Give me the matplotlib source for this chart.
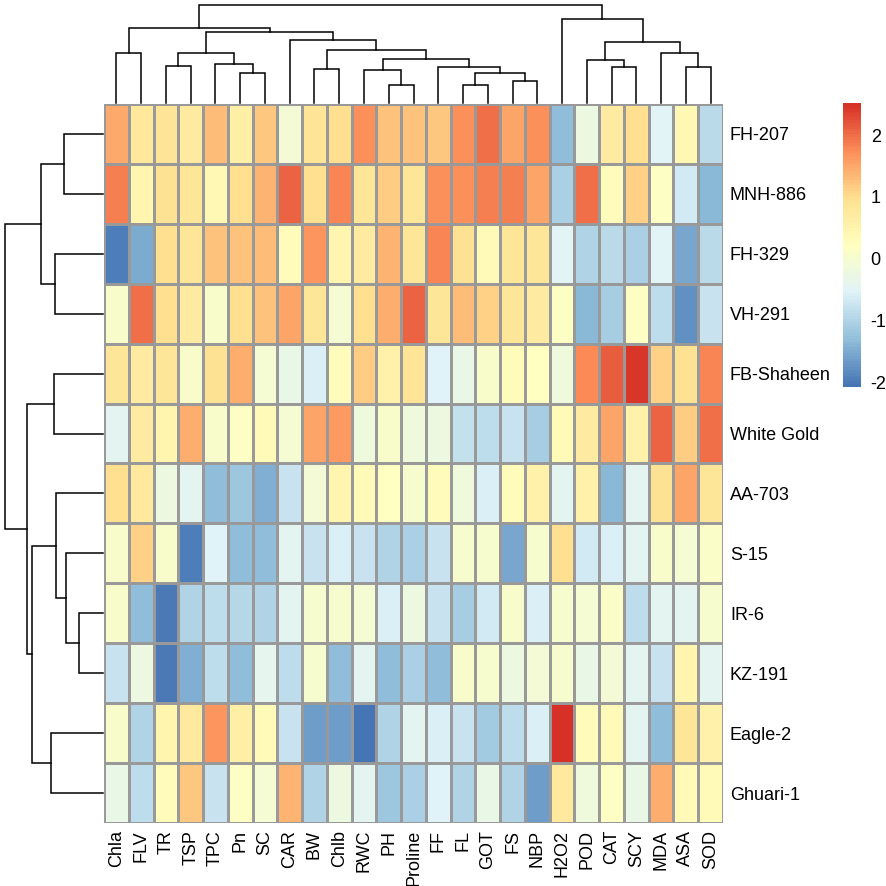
import numpy as np
import matplotlib
matplotlib.use("Agg")
import matplotlib.pyplot as plt
from matplotlib.colors import LinearSegmentedColormap

plt.rcParams['font.family'] = ['Liberation Sans', 'DejaVu Sans']
plt.rcParams['axes.unicode_minus'] = False

# genotypes (rows, top to bottom) and traits (columns, left to right)
genotypes = ["FH-207", "MNH-886", "FH-329", "VH-291", "FB-Shaheen", "White Gold",
             "AA-703", "S-15", "IR-6", "KZ-191", "Eagle-2", "Ghuari-1"]
traits = ["Chla", "FLV", "TR", "TSP", "TPC", "Pn", "SC", "CAR", "BW", "Chlb",
          "RWC", "PH", "Proline", "FF", "FL", "GOT", "FS", "NBP", "H2O2",
          "POD", "CAT", "SCY", "MDA", "ASA", "SOD"]

# scaled values, one line per genotype
z_scores = [
    [1.5, 0.8, 0.9, 0.7, 1.3, 0.6, 1.2, -0.1, 0.9, 1.0, 1.7, 1.25, 1.25, 1.2, 1.7, 2.0, 1.55, 1.7, -1.3, -0.2, 0.7, 1.0, -0.5, 0.4, -0.9],
    [1.85, 0.45, 0.95, 0.85, 0.4, 1.0, 1.4, 2.1, 1.0, 1.8, 0.85, 1.15, 0.85, 1.7, 1.7, 1.85, 1.85, 1.55, -1.05, 2.0, 0.3, 1.1, 0.15, -0.7, -1.35],
    [-1.95, -1.5, 1.0, 0.85, 1.25, 1.25, 1.3, 0.3, 1.65, 0.45, 0.7, 1.4, 0.85, 1.8, 0.95, 0.35, 0.85, 0.85, -0.5, -1.0, -0.9, -1.05, -0.5, -1.55, -0.9],
    [0.05, 2.0, 1.0, 0.7, 0.05, 1.0, 1.25, 1.55, 0.85, -0.05, 1.0, 1.45, 2.1, 0.85, 1.3, 1.1, 0.85, 0.7, 0.15, -1.35, -1.1, 0.15, -0.85, -1.8, -0.75],
    [0.85, 0.7, 0.85, 0.05, 0.95, 1.45, -0.05, -0.3, -0.6, 0.3, 1.15, 0.55, 0.9, -0.55, -0.3, 0.05, 0.3, 0.2, -0.15, 1.75, 2.15, 2.45, 1.1, 0.95, 1.8],
    [-0.45, 0.7, 0.45, 1.45, 0.05, 0.15, 0.35, -0.05, 1.55, 1.6, -0.15, 0.05, -0.15, -0.2, -0.8, -0.85, -0.75, -1.1, 0.35, 0.7, 1.55, 0.55, 2.1, 1.15, 2.0],
    [1.0, 0.75, -0.2, -0.45, -1.3, -1.2, -1.45, -0.75, -0.1, 0.45, 0.35, 0.2, 0.0, 0.3, -0.15, -0.6, 0.3, 0.55, -0.45, 0.55, -1.35, -0.45, 0.95, 1.55, 0.85],
    [0.05, 1.1, 0.05, -1.95, -0.55, -1.3, -1.3, -0.45, -0.75, -0.6, -0.75, -1.0, -1.05, -0.75, 0.0, 0.0, -1.55, 0.0, 1.0, -0.7, -0.6, -0.45, 0.05, -0.05, 0.1],
    [0.05, -1.3, -2.0, -1.0, -0.85, -0.95, -1.0, -0.45, 0.0, 0.0, -0.05, -0.6, -0.2, -0.75, -1.1, -0.7, 0.05, -0.6, 0.0, -0.05, 0.1, -0.85, -0.45, -0.45, 0.0],
    [-0.75, -0.2, -2.0, -1.45, -0.85, -1.3, -0.4, -0.85, 0.0, -1.3, -0.45, -1.3, -1.05, -1.3, 0.05, 0.0, -0.2, -0.1, 0.0, -0.3, -0.1, -0.45, -0.75, 0.45, -0.45],
    [0.05, -1.0, 0.45, 0.75, 1.65, 0.6, 0.35, -0.75, -1.65, -1.65, -2.08, -1.0, -0.45, -0.6, -0.75, -1.15, -0.85, -0.6, 2.52, 0.3, 0.35, -0.45, -1.3, 0.85, 0.55],
    [-0.3, -0.85, 0.3, 1.2, -0.75, 0.15, -0.05, 1.4, -1.0, -0.2, -0.45, -1.2, -1.05, -0.55, -1.0, -0.3, -1.0, -1.65, 0.75, -0.15, 0.15, -0.3, 1.45, 0.35, 0.35],
]

# merges as (left, right, height); ids >= n are earlier merges
col_merges = [
    (11, 12, 53), (14, 15, 53), (16, 17, 67), (5, 6, 92), (26, 27, 92),
    (10, 25, 100), (8, 9, 104), (13, 29, 108), (20, 21, 108), (23, 24, 108),
    (2, 3, 112), (4, 28, 118), (19, 33, 130), (30, 32, 134), (0, 1, 152),
    (35, 36, 152), (22, 34, 152), (31, 38, 160), (37, 41, 185), (7, 42, 190),
    (40, 44, 215), (39, 45, 228), (18, 43, 253), (46, 47, 296),
]
row_merges = [
    (8, 9, 73), (7, 12, 110), (0, 1, 117), (6, 13, 140), (2, 3, 143),
    (4, 5, 147), (10, 11, 158), (14, 16, 188), (15, 18, 215), (17, 20, 230),
    (19, 21, 295),
]

data = np.array(z_scores)
W = H = 886.0


def px_axes(fig, x0, y0, x1, y1):
    # axes from pixel box (top-left origin)
    return fig.add_axes([x0 / W, 1 - y1 / H, (x1 - x0) / W, (y1 - y0) / H])


def draw_dendro(ax, merges, n, orient):
    pos = {i: i + 0.5 for i in range(n)}
    hgt = {i: 0.0 for i in range(n)}
    for k, (a, b, h) in enumerate(merges):
        xa, xb = pos[a], pos[b]
        if orient == 'top':
            ax.plot([xa, xa, xb, xb], [hgt[a], h, h, hgt[b]], color='black', lw=1.1,
                    solid_joinstyle='miter', clip_on=False)
        else:
            ax.plot([hgt[a], h, h, hgt[b]], [xa, xa, xb, xb], color='black', lw=1.1,
                    solid_joinstyle='miter', clip_on=False)
        pos[n + k] = (xa + xb) / 2
        hgt[n + k] = h
    top = merges[-1][2]
    if orient == 'top':
        ax.set_xlim(0, n)
        ax.set_ylim(0, top)
    else:
        ax.set_ylim(n, 0)
        ax.set_xlim(top, 0)
    ax.axis('off')


fig = plt.figure(figsize=(8.86, 8.86), dpi=100)

colors = ['#4575B4', '#91BFDB', '#E0F3F8', '#FFFFBF', '#FEE090', '#FC8D59', '#D73027']
cmap = LinearSegmentedColormap.from_list('rdylbu', colors, N=100)

ax = px_axes(fig, 104, 104, 723, 823)
mesh = ax.pcolormesh(data, cmap=cmap, vmin=data.min(), vmax=data.max(),
                     edgecolors='#999999', linewidth=0.8)
ax.set_xlim(0, len(traits))
ax.set_ylim(len(genotypes), 0)
for s in ax.spines.values():
    s.set_visible(False)
ax.set_xticks(np.arange(len(traits)) + 0.5)
ax.set_xticklabels(traits, rotation=90, fontsize=13)
ax.set_yticks(np.arange(len(genotypes)) + 0.5)
ax.set_yticklabels(genotypes, fontsize=13)
ax.yaxis.tick_right()
ax.tick_params(length=0, pad=5)

axc = px_axes(fig, 104, 5, 723, 103)
draw_dendro(axc, col_merges, len(traits), 'top')
axr = px_axes(fig, 5, 104, 103, 823)
draw_dendro(axr, row_merges, len(genotypes), 'left')

cax = px_axes(fig, 843, 103, 861, 387)
cb = fig.colorbar(mesh, cax=cax, ticks=[-2, -1, 0, 1, 2])
cb.outline.set_visible(False)
cb.ax.tick_params(length=0, labelsize=13, pad=7)

fig.savefig('out.png', dpi=100)
